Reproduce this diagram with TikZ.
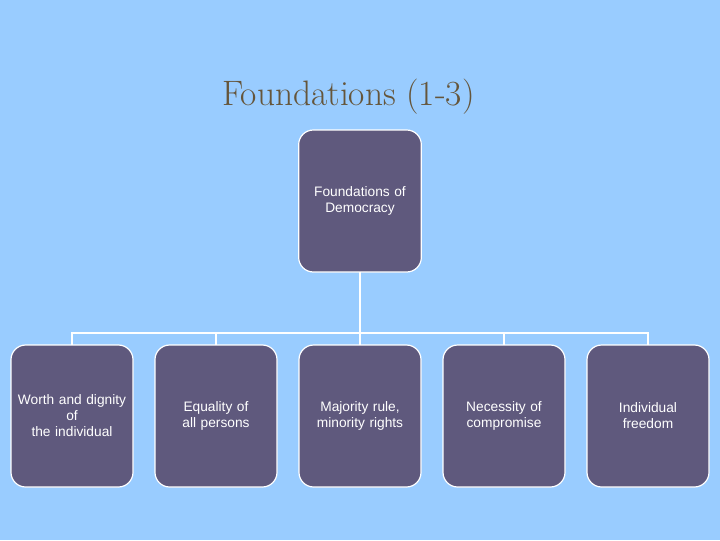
\documentclass[tikz,border=0pt]{standalone}
\usepackage{fontspec}
\newfontfamily\boxfont{Liberation Sans}
\usetikzlibrary{positioning}
\definecolor{skyback}{HTML}{99CCFF}
\definecolor{boxfill}{HTML}{5F597D}
\definecolor{titlebrown}{HTML}{65553A}

\begin{document}
\begin{tikzpicture}[x=0.75pt, y=-0.75pt, node distance=54.75pt and 16.5pt,
  box/.style={draw=white, line width=0.9pt, fill=boxfill, rounded corners=11pt, minimum width=91.5pt, minimum height=106.5pt, text width=85pt, align=center, text=white, font=\boxfont\fontsize{10.3}{12}\selectfont, inner sep=0pt, outer sep=0pt},
  link/.style={draw=white, line width=2.2pt}]
\fill[skyback] (0,0) rectangle (720,540);
\useasboundingbox (0,0) rectangle (720,540);
\node[text=titlebrown, font=\fontsize{26.5}{30}\selectfont] (title) at (348.5,97) {Foundations (1-3)};
\node[box, minimum width=92pt] (top) at (360,201) {Foundations of\\ Democracy};
\node[box, below=of top] (c3) {Majority rule,\\ minority rights};
\node[box, left=of c3] (c2) {Equality of\\ all persons};
\node[box, left=of c2] (c1) {Worth and dignity\\ of\\ the individual};
\node[box, right=of c3] (c4) {Necessity of\\ compromise};
\node[box, right=of c4] (c5) {Individual\\ freedom};
\foreach \c in {c1,c2,c3,c4,c5}
  \draw[link] (top.south) -- ++(0,61) -| (\c.north);
\end{tikzpicture}
\end{document}
